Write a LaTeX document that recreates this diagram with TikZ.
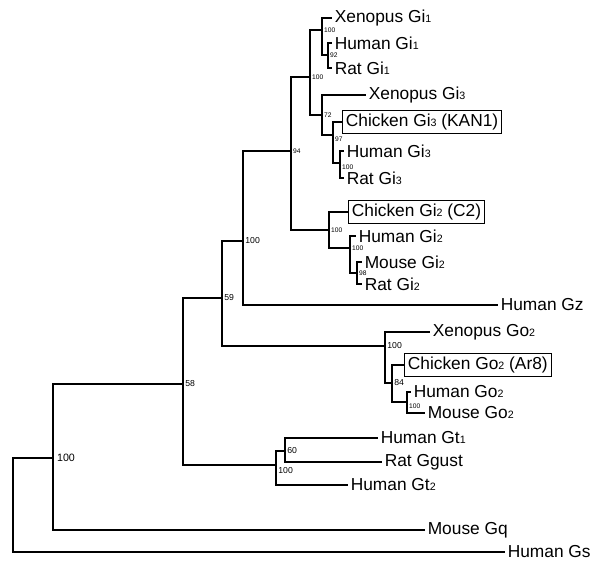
\documentclass[tikz,border=0pt]{standalone}
\usepackage{fontspec}
\setmainfont{Liberation Sans}
\usepackage{tikz}
\tikzset{
    treediagram/.style={x=0.75pt, y=-0.75pt, line width=1.2pt, font=\fontsize{13}{13}\selectfont},
    leaf/.style={anchor=west, inner sep=1.5pt},
    boxleaf/.style={leaf, draw, line width=0.8pt, inner sep=2.5pt},
    % bootstrap values, written beside the node
    boot/.style={font=\fontsize{6.5}{6.5}\selectfont, inner sep=1.2pt},
    bootsm/.style={font=\fontsize{5}{5}\selectfont, inner sep=1pt},
    bootlg/.style={font=\fontsize{8}{8}\selectfont, inner sep=2.5pt},
}
\newcommand{\gsub}[1]{{\fontsize{8}{8}\selectfont #1}}

\begin{document}
\begin{tikzpicture}[treediagram]
    \useasboundingbox (0,0) rectangle (602,566);

    % root and outgroups
    \coordinate (root) at (13,505);
    \coordinate[label={[bootlg]right:100}] (n1) at (53,458);
    \node[leaf] (gs) at (505,552) {Human Gs};
    \node[leaf] (gq) at (425,530) {Mouse Gq};
    \coordinate[label={[boot]right:58}] (n58) at (183,384);
    \coordinate[label={[boot]right:59}] (n59) at (222,298);

    % transducin / gustducin
    \coordinate[label={[boot]-15:100}] (ngt) at (276,465);
    \coordinate[label={[boot]right:60}] (ngt2) at (285,451);
    \node[leaf] (gt1) at (378,438) {Human Gt\gsub{1}};
    \node[leaf] (ggust) at (382,462) {Rat Ggust};
    \node[leaf] (gt2) at (348,485) {Human Gt\gsub{2}};

    % Go
    \coordinate[label={[boot]right:100}] (ngo) at (385,346);
    \node[leaf] (xgo) at (430,332) {Xenopus Go\gsub{2}};
    \coordinate[label={[boot]right:84}] (ngo2) at (392,383);
    \node[boxleaf] (cgo) at (404,365) {Chicken Go\gsub{2} (Ar8)};
    \coordinate[label={[bootsm]-20:100}] (ngo3) at (407,402);
    \node[leaf] (hgo) at (411,392) {Human Go\gsub{2}};
    \node[leaf] (mgo) at (425,413) {Mouse Go\gsub{2}};

    % Gz and Gi
    \coordinate[label={[boot]right:100}] (n100) at (243,241);
    \node[leaf] (gz) at (498,305) {Human Gz};
    \coordinate[label={[bootsm]right:94}] (n94) at (291,151);
    \coordinate[label={[bootsm]right:100}] (na) at (310,77);

    \coordinate[label={[bootsm]right:100}] (nb) at (322,30);
    \node[leaf] (xgi1) at (332,18) {Xenopus Gi\gsub{1}};
    \coordinate[label={[bootsm]right:92}] (nc) at (328,55);
    \node[leaf] (hgi1) at (332,43) {Human Gi\gsub{1}};
    \node[leaf] (rgi1) at (332,68) {Rat Gi\gsub{1}};

    \coordinate[label={[bootsm]right:72}] (nd) at (322,115);
    \node[leaf] (xgi3) at (366,95) {Xenopus Gi\gsub{3}};
    \coordinate[label={[bootsm]-30:97}] (ne) at (333,135);
    \node[boxleaf] (cgi3) at (342,122) {Chicken Gi\gsub{3} (KAN1)};
    \coordinate[label={[bootsm]-30:100}] (nf) at (340,163);
    \node[leaf] (hgi3) at (344,151) {Human Gi\gsub{3}};
    \node[leaf] (rgi3) at (344,178) {Rat Gi\gsub{3}};

    \coordinate[label={[bootsm]right:100}] (ngi2) at (329,230);
    \node[boxleaf] (cgi2) at (348,212) {Chicken Gi\gsub{2} (C2)};
    \coordinate[label={[bootsm]right:100}] (ng) at (350,248);
    \node[leaf] (hgi2) at (356,236) {Human Gi\gsub{2}};
    \coordinate[label={[bootsm]right:98}] (nh) at (357,273);
    \node[leaf] (mgi2) at (362,262) {Mouse Gi\gsub{2}};
    \node[leaf] (rgi2) at (362,284) {Rat Gi\gsub{2}};

    % branches
    \draw (root) |- (n1);  \draw (root) |- (gs);
    \draw (n1) |- (n58);   \draw (n1) |- (gq);
    \draw (n58) |- (n59);  \draw (n58) |- (ngt);
    \draw (ngt) |- (ngt2); \draw (ngt) |- (gt2);
    \draw (ngt2) |- (gt1); \draw (ngt2) |- (ggust);
    \draw (n59) |- (n100); \draw (n59) |- (ngo);
    \draw (ngo) |- (xgo);  \draw (ngo) |- (ngo2);
    \draw (ngo2) |- (cgo); \draw (ngo2) |- (ngo3);
    \draw (ngo3) |- (hgo); \draw (ngo3) |- (mgo);
    \draw (n100) |- (n94); \draw (n100) |- (gz);
    \draw (n94) |- (na);   \draw (n94) |- (ngi2);
    \draw (na) |- (nb);    \draw (na) |- (nd);
    \draw (nb) |- (xgi1);  \draw (nb) |- (nc);
    \draw (nc) |- (hgi1);  \draw (nc) |- (rgi1);
    \draw (nd) |- (xgi3);  \draw (nd) |- (ne);
    \draw (ne) |- (cgi3);  \draw (ne) |- (nf);
    \draw (nf) |- (hgi3);  \draw (nf) |- (rgi3);
    \draw (ngi2) |- (cgi2); \draw (ngi2) |- (ng);
    \draw (ng) |- (hgi2);  \draw (ng) |- (nh);
    \draw (nh) |- (mgi2);  \draw (nh) |- (rgi2);
\end{tikzpicture}
\end{document}
